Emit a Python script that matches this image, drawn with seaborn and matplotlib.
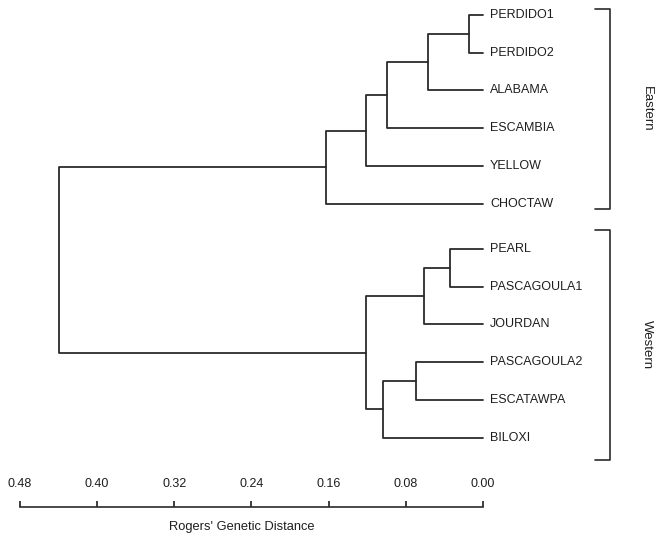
import matplotlib
matplotlib.use("Agg")
import matplotlib.pyplot as plt
import pandas as pd
import seaborn as sns

# leaves, top to bottom
leaves = ["PERDIDO1", "PERDIDO2", "ALABAMA", "ESCAMBIA", "YELLOW", "CHOCTAW",
          "PEARL", "PASCAGOULA1", "JOURDAN", "PASCAGOULA2", "ESCATAWPA", "BILOXI"]

# merges in linkage order: node ids 12.. (scipy style), heights = Rogers' distance
merge_left = [0, 6, 12, 13, 9, 14, 16, 17, 15, 19, 21]
merge_right = [1, 7, 2, 8, 10, 3, 11, 4, 18, 5, 20]
merge_height = [0.015, 0.034, 0.057, 0.061, 0.069, 0.100, 0.104, 0.121, 0.121, 0.163, 0.440]

groups = ["Eastern", "Western"]
group_first = [0, 6]
group_last = [5, 11]

scale_ticks = [0.48, 0.40, 0.32, 0.24, 0.16, 0.08, 0.00]
axis_title = "Rogers' Genetic Distance"

LINE = "#2b2b2b"
TEXT = "#1e1e1e"
GAP = 0.19  # extra space between the two groups

sns.set_style("white")
plt.rcParams["font.family"] = ["Liberation Sans", "DejaVu Sans"]

# leaf positions
leaf_pos = [i + (GAP if i >= 6 else 0.0) for i in range(len(leaves))]
node_y = list(leaf_pos)
node_h = [0.0] * len(leaves)

rows = []
for k, (a, b, h) in enumerate(zip(merge_left, merge_right, merge_height)):
    ya, yb = node_y[a], node_y[b]
    for x, y in [(node_h[a], ya), (h, ya), (h, yb), (node_h[b], yb)]:
        rows.append({"seg": k, "x": x, "y": y})
    node_y.append((ya + yb) / 2)
    node_h.append(h)
segs = pd.DataFrame(rows)

fig = plt.figure(figsize=(6.58, 5.37), dpi=100)
ax = fig.add_axes([0, 0, 1, 1])

sns.lineplot(data=segs, x="x", y="y", units="seg", estimator=None, sort=False,
             color=LINE, lw=1.3, ax=ax)

ax.set_xlim(0.5007, -0.1814)
ax.set_ylim(13.815, -0.392)
ax.set_xlabel("")
ax.set_ylabel("")

for name, y in zip(leaves, leaf_pos):
    ax.annotate(name, (0.0, y), xytext=(5, 0), textcoords="offset points",
                ha="left", va="center", fontsize=9, color=TEXT)

# group brackets
pads = [(0.15, 0.14), (0.5, 0.59)]
x_br, x_stub, x_lab = -0.1317, -0.116, -0.170
for name, i0, i1, (p0, p1) in zip(groups, group_first, group_last, pads):
    y0, y1 = leaf_pos[i0] - p0, leaf_pos[i1] + p1
    ax.plot([x_stub, x_br, x_br, x_stub], [y0, y0, y1, y1], color=LINE, lw=1.2)
    ax.text(x_lab, (y0 + y1) / 2, name, rotation=270, ha="center", va="center",
            fontsize=9.5, color=TEXT)

# scale bar
for s in ["left", "right", "bottom"]:
    ax.spines[s].set_visible(False)
ax.spines["top"].set_position(("data", 13.02))
ax.spines["top"].set_bounds(scale_ticks[0], scale_ticks[-1])
ax.spines["top"].set_color(LINE)
ax.spines["top"].set_linewidth(1.2)
ax.xaxis.set_ticks_position("top")
ax.set_xticks(scale_ticks)
ax.set_xticklabels([f"{t:.2f}" for t in scale_ticks])
ax.tick_params(axis="x", direction="out", length=4, width=1.2, pad=8,
               labelsize=9, colors=TEXT)
ax.set_yticks([])
ax.text(0.25, 13.55, axis_title, ha="center", va="center", fontsize=9.3, color=TEXT)

fig.savefig("out.png", dpi=100, facecolor="white")
